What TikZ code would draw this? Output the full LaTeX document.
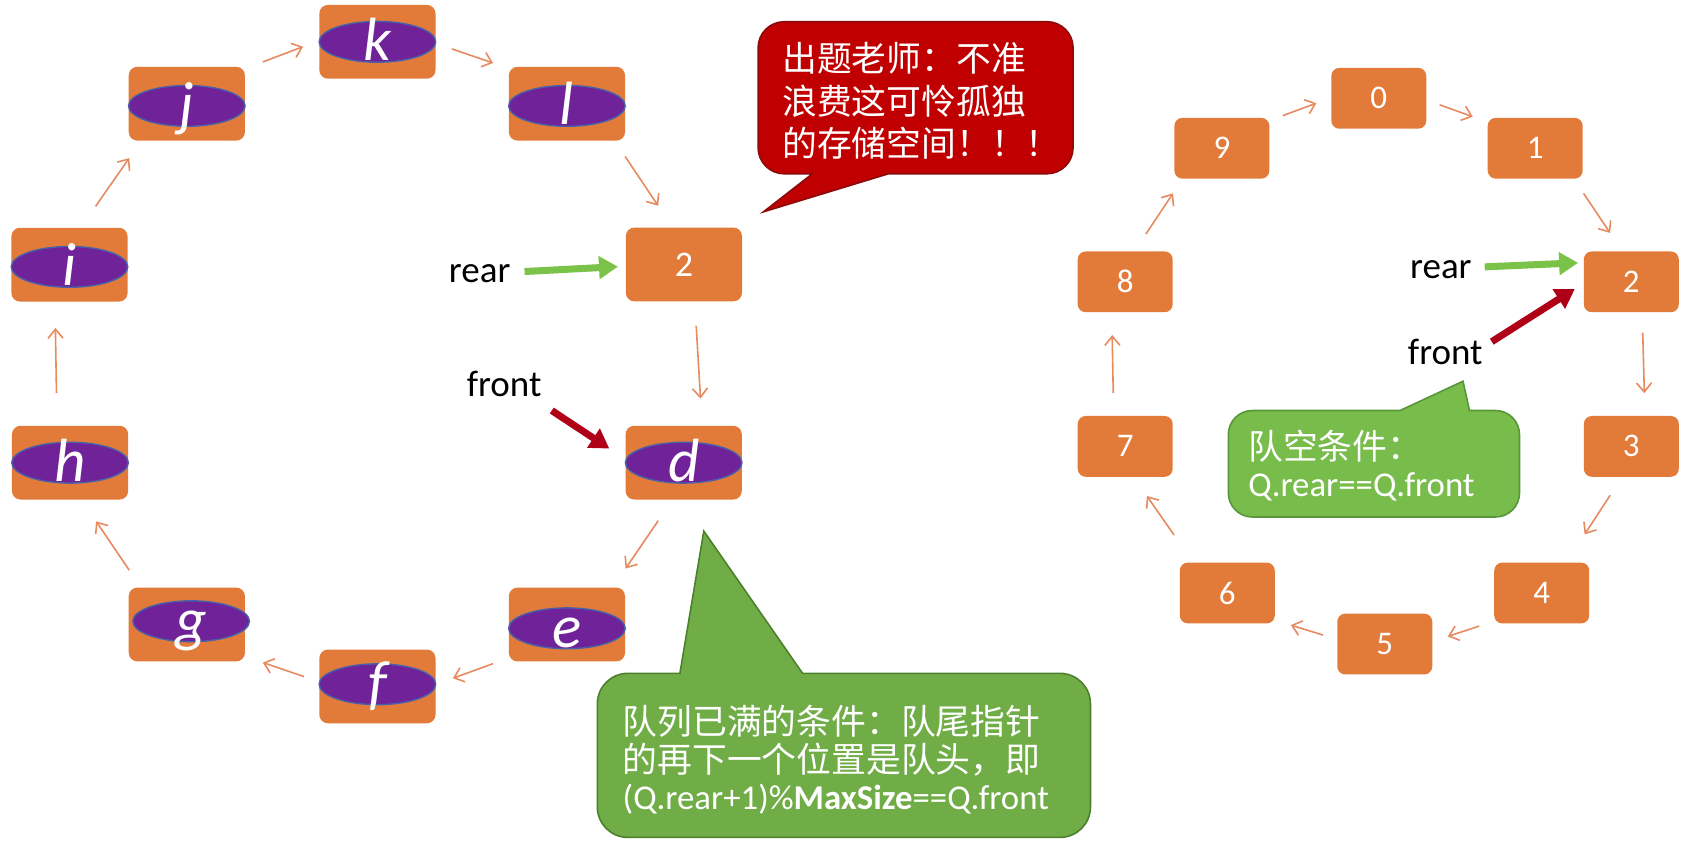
\documentclass[tikz,border=0pt]{standalone}
\usepackage{fontspec}
\setmainfont{Carlito}
\newfontfamily\cjk{Noto Sans CJK SC}
\usetikzlibrary{shapes.geometric,arrows.meta}
\definecolor{boxor}{RGB}{226,123,58}
\definecolor{arror}{RGB}{232,138,95}
\definecolor{purp}{RGB}{112,34,152}
\definecolor{ellline}{RGB}{72,96,170}
\definecolor{rgreen}{RGB}{122,194,72}
\definecolor{fred}{RGB}{176,0,24}
\definecolor{bred}{RGB}{192,0,0}
\definecolor{bredl}{RGB}{140,10,10}
\definecolor{bgreen}{RGB}{112,173,71}
\definecolor{bgreenl}{RGB}{76,128,46}
\definecolor{bgreenb}{RGB}{120,188,76}
\definecolor{bgreenbl}{RGB}{88,150,58}
\newcommand\qcell[6]{%
  \node[lbox] (#1) at (#2,#3) {};
  \node[cell] (#1e) at ([shift={(#4,#5)}]#1.center) {};
  \node[celltext] (#1t) at ([shift={(0,17.5)}]#1e.center) {#6};}
\newcommand\rarr[6]{\draw[ring] ([shift={(#2,#3)}]#1.center) -- ([shift={(#5,#6)}]#4.center);}
\begin{document}
\begin{tikzpicture}[x=0.5431pt,y=-0.5431pt,
  lbox/.style={fill=boxor, rounded corners=4.3pt, minimum width=58.1pt, minimum height=36.9pt, inner sep=0pt},
  rbox/.style={fill=boxor, rounded corners=4pt, minimum width=47.5pt, minimum height=30.4pt, inner sep=0pt, text=white, font=\fontsize{16.5}{16.5}\selectfont},
  cell/.style={ellipse, fill=purp, draw=ellline, line width=0.7pt, minimum width=58.3pt, minimum height=20.4pt, inner sep=0pt},
  celltext/.style={anchor=base, inner sep=0pt, text=white, font=\fontsize{30.5}{30.5}\selectfont\itshape},
  ring/.style={draw=arror, line width=0.8pt, -{Straight Barb[length=4.5pt,width=7.5pt]}},
  rearptr/.style={draw=rgreen, line width=3.5pt, -{Triangle[length=9.5pt,width=11pt]}},
  frontptr/.style={draw=fred, line width=3.5pt, -{Triangle[length=9.5pt,width=11pt]}},
  lbl/.style={anchor=base west, inner sep=0pt, font=\fontsize{18.5}{18.5}\selectfont},
  cjkline/.style={anchor=base west, inner sep=0pt, text=white, font=\cjk\fontsize{17.4}{17.4}\selectfont},
  latline/.style={anchor=base west, inner sep=0pt, text=white, font=\fontsize{17.4}{17.4}\selectfont},
  ]
\useasboundingbox (0,0) rectangle (1568,791);

% ---------- left ring ----------
\qcell{k}{347.5}{38.5}{0}{0}{k}
\qcell{j}{172}{95.5}{0}{2}{j}
\qcell{l}{522}{95.5}{0}{2}{l}
\qcell{i}{64}{243.7}{0}{2}{i}
\node[lbox, text=white, font=\fontsize{18}{18}\selectfont] (two) at (629.7,243.5) {2};
\qcell{h}{64.5}{426}{0}{0}{h}
\qcell{d}{629.5}{426}{0}{0}{d}
\qcell{g}{172}{575}{4}{-3}{g}
\qcell{e}{522}{575}{0}{3.5}{e}
\qcell{f}{347.5}{632}{0}{-2}{f}

\rarr{j}{70}{-38.5}{k}{-68.5}{4.5}
\rarr{k}{68.5}{6.5}{l}{-68}{-37.5}
\rarr{l}{53.5}{48.5}{two}{-23.7}{-54}
\rarr{two}{11.3}{56.5}{d}{15.5}{-59}
\rarr{d}{-23.5}{53.5}{e}{54}{-51.5}
\rarr{e}{-68}{36}{f}{69.5}{-7.5}
\rarr{f}{-67.5}{-9}{g}{70}{35}
\rarr{g}{-53}{-50}{h}{24}{54}
\rarr{h}{-12.5}{-64}{i}{-13}{58.3}
\rarr{i}{24}{-53.7}{j}{-53}{50}

\node[lbl] (rearL) at (413,260) {rear};
\coordinate (rearLs) at (483,250);
\draw[rearptr] (rearLs) -- ([shift={(-60.7,2)}]two.center);
\node[lbl] (frontL) at (429.5,365.5) {front};
\coordinate (frontLs) at (508,378);
\draw[frontptr] (frontLs) -- ([shift={(-68.5,-13)}]d.center);

% ---------- red callout ----------
\draw[fill=bred, draw=bredl, line width=0.8pt] (748,160) -- (703,195) -- (818,160) -- (964,160) arc (90:0:24) -- (988,44) arc (0:-90:24) -- (722,20) arc (-90:-180:24) -- (698,136) arc (180:90:24) -- cycle;
\node[cjkline] (rb1) at (720,66) {出题老师：不准};
\node[cjkline] (rb2) at (720,105) {浪费这可怜孤独};
\node[cjkline] (rb3) at (720,144) {的存储空间！！！};

% ---------- green callout (full) ----------
\draw[fill=bgreen, draw=bgreenl, line width=0.8pt] (626,620) -- (648,489) -- (739,620) -- (976,620) arc (-90:0:28) -- (1004,743) arc (0:90:28) -- (578,771) arc (90:180:28) -- (550,648) arc (180:270:28) -- cycle;
\node[cjkline] (gb1) at (573,676) {队列已满的条件：队尾指针};
\node[cjkline] (gb2) at (573,711) {的再下一个位置是队头，即};
\node[latline] (gb3) at (573,745) {(Q.rear+1)\%\textbf{MaxSize}==Q.front};

% ---------- right ring ----------
\node[rbox] (r0) at (1269.5,90.5) {0};
\node[rbox] (r9) at (1125,136.5) {9};
\node[rbox] (r1) at (1413.5,136.5) {1};
\node[rbox] (r8) at (1036,259.5) {8};
\node[rbox] (r2) at (1502,259.5) {2};
\node[rbox] (r7) at (1036,411) {7};
\node[rbox] (r3) at (1502,411) {3};
\node[rbox] (r6) at (1130,546) {6};
\node[rbox] (r4) at (1419.5,546) {4};
\node[rbox] (r5) at (1275,593) {5};

\rarr{r9}{56}{-30}{r0}{-57.5}{4.5}
\rarr{r0}{56}{6}{r1}{-57.5}{-29}
\rarr{r1}{44.5}{41.5}{r2}{-19.5}{-45}
\rarr{r2}{10.5}{47}{r3}{12}{-49}
\rarr{r3}{-19.5}{45}{r4}{39.5}{-54}
\rarr{r4}{-57.5}{30.4}{r5}{58}{-7}
\rarr{r5}{-57}{-8.3}{r6}{58.5}{29.5}
\rarr{r6}{-49}{-53.4}{r7}{20}{45.7}
\rarr{r7}{-11}{-49}{r8}{-12}{49}
\rarr{r8}{19}{-44}{r9}{-45}{41.5}

\node[lbl] (rearR) at (1298,256) {rear};
\coordinate (rearRs) at (1367,245.7);
\draw[rearptr] (rearRs) -- ([shift={(-49,-17.5)}]r2.center);
\node[lbl] (frontR) at (1296,336) {front};
\coordinate (frontRs) at (1373.5,314.6);
\draw[frontptr] (frontRs) -- ([shift={(-52,6.5)}]r2.center);

% ---------- green callout (empty) ----------
\draw[fill=bgreenb, draw=bgreenbl, line width=0.8pt] (1289,378) -- (1347,351) -- (1353,378) -- (1377,378) arc (-90:0:22) -- (1399,454) arc (0:90:22) -- (1153,476) arc (90:180:22) -- (1131,400) arc (180:270:22) -- cycle;
\node[cjkline] (eb1) at (1149,423) {队空条件：};
\node[latline] (eb2) at (1149,457) {Q.rear==Q.front};
\end{tikzpicture}
\end{document}
